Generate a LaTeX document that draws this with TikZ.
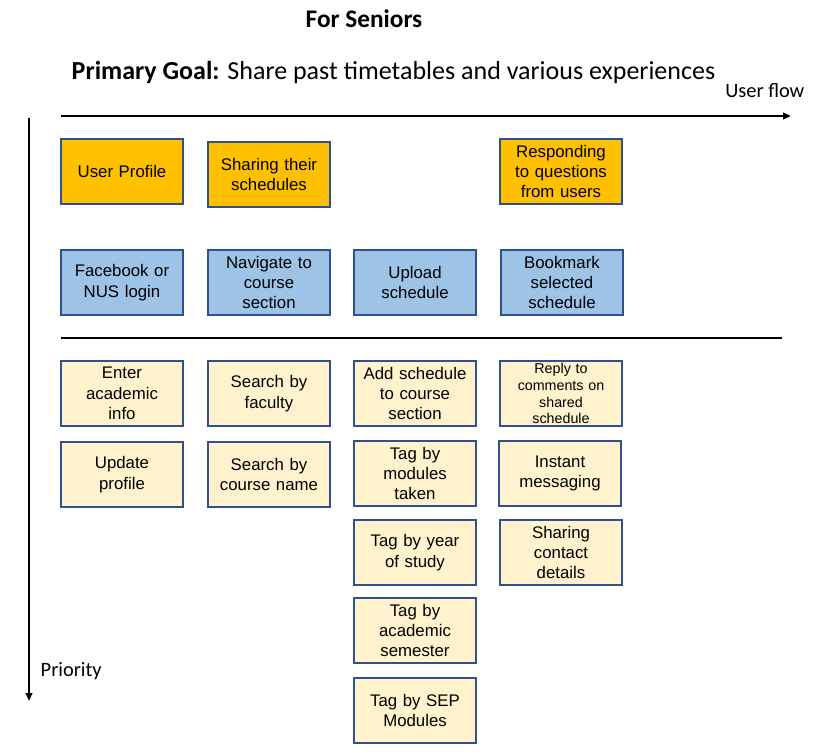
\documentclass[tikz,border=0pt]{standalone}
\usepackage{fontspec}
\setmainfont{Liberation Sans}
\newfontfamily\calib{Carlito}
\usetikzlibrary{arrows.meta}
\definecolor{orangebox}{HTML}{FFC000}
\definecolor{bluebox}{HTML}{9DC3E6}
\definecolor{lightbox}{HTML}{FFF2CC}
\definecolor{boxline}{HTML}{2F528F}
\begin{document}
\begin{tikzpicture}[x=0.75pt,y=-0.75pt,
  card/.style={draw=boxline,line width=1pt,minimum width=91.5pt,minimum height=48.75pt,
    inner sep=1pt,align=center,font=\fontsize{12.6}{15.3}\selectfont,text width=89pt},
  orangecard/.style={card,fill=orangebox},
  bluecard/.style={card,fill=bluebox},
  lightcard/.style={card,fill=lightbox},
  axis/.style={line width=1.5pt,-{Triangle[length=6pt,width=5pt]}}]
\useasboundingbox (0,0) rectangle (827,753);
% titles
\node[font=\calib\bfseries\fontsize{19}{22}\selectfont] (title) at (364,19) {For Seniors};
\node[font=\calib\fontsize{19.5}{23}\selectfont,anchor=west] (goal) at (67,72) {\textbf{Primary Goal:} Share past timetables and various experiences};
% axes
\coordinate (uf0) at (61,116);
\coordinate (uf1) at (791,116);
\draw[axis] (uf0) -- (uf1);
\node[font=\calib\fontsize{15.3}{18}\selectfont,anchor=east] (uflabel) at (809,91) {User flow};
\coordinate (pr0) at (29,118);
\coordinate (pr1) at (29,701);
\draw[axis] (pr0) -- (pr1);
\node[font=\calib\fontsize{15.3}{18}\selectfont,anchor=west] (prlabel) at (36,671) {Priority};
% separator
\coordinate (s0) at (61,338);
\coordinate (s1) at (782,338);
\draw[line width=1.5pt] (s0) -- (s1);
% row 1
\node[orangecard] (a1) at (122,171.5) {User Profile};
\node[orangecard] (a2) at (269,174.5) {Sharing their\\schedules};
\node[orangecard] (a4) at (561,171.5) {Responding\\to questions\\from users};
% row 2
\node[bluecard] (b1) at (122,282.5) {Facebook or\\NUS login};
\node[bluecard] (b2) at (269,282.5) {Navigate to\\course\\section};
\node[bluecard] (b3) at (415,282.5) {Upload\\schedule};
\node[bluecard] (b4) at (562,282.5) {Bookmark\\selected\\schedule};
% row 3
\node[lightcard] (c1) at (122,393.5) {Enter\\academic\\info};
\node[lightcard] (c2) at (269,393.5) {Search by\\faculty};
\node[lightcard] (c3) at (415,393.5) {Add schedule\\to course\\section};
\node[lightcard,font=\fontsize{10.7}{12.6}\selectfont] (c4) at (561,393.5) {Reply to\\comments on\\shared\\schedule};
% row 4
\node[lightcard] (d1) at (122,474.5) {Update\\profile};
\node[lightcard] (d2) at (269,474.5) {Search by\\course name};
\node[lightcard] (d3) at (415,473.5) {Tag by\\modules\\taken};
\node[lightcard] (d4) at (560,473.5) {Instant\\messaging};
% row 5
\node[lightcard] (e3) at (415,552.5) {Tag by year\\of study};
\node[lightcard] (e4) at (561,552.5) {Sharing\\contact\\details};
% row 6, 7
\node[lightcard] (f3) at (415,630.5) {Tag by\\academic\\semester};
\node[lightcard] (g3) at (415,710.5) {Tag by SEP\\Modules};
\end{tikzpicture}
\end{document}
